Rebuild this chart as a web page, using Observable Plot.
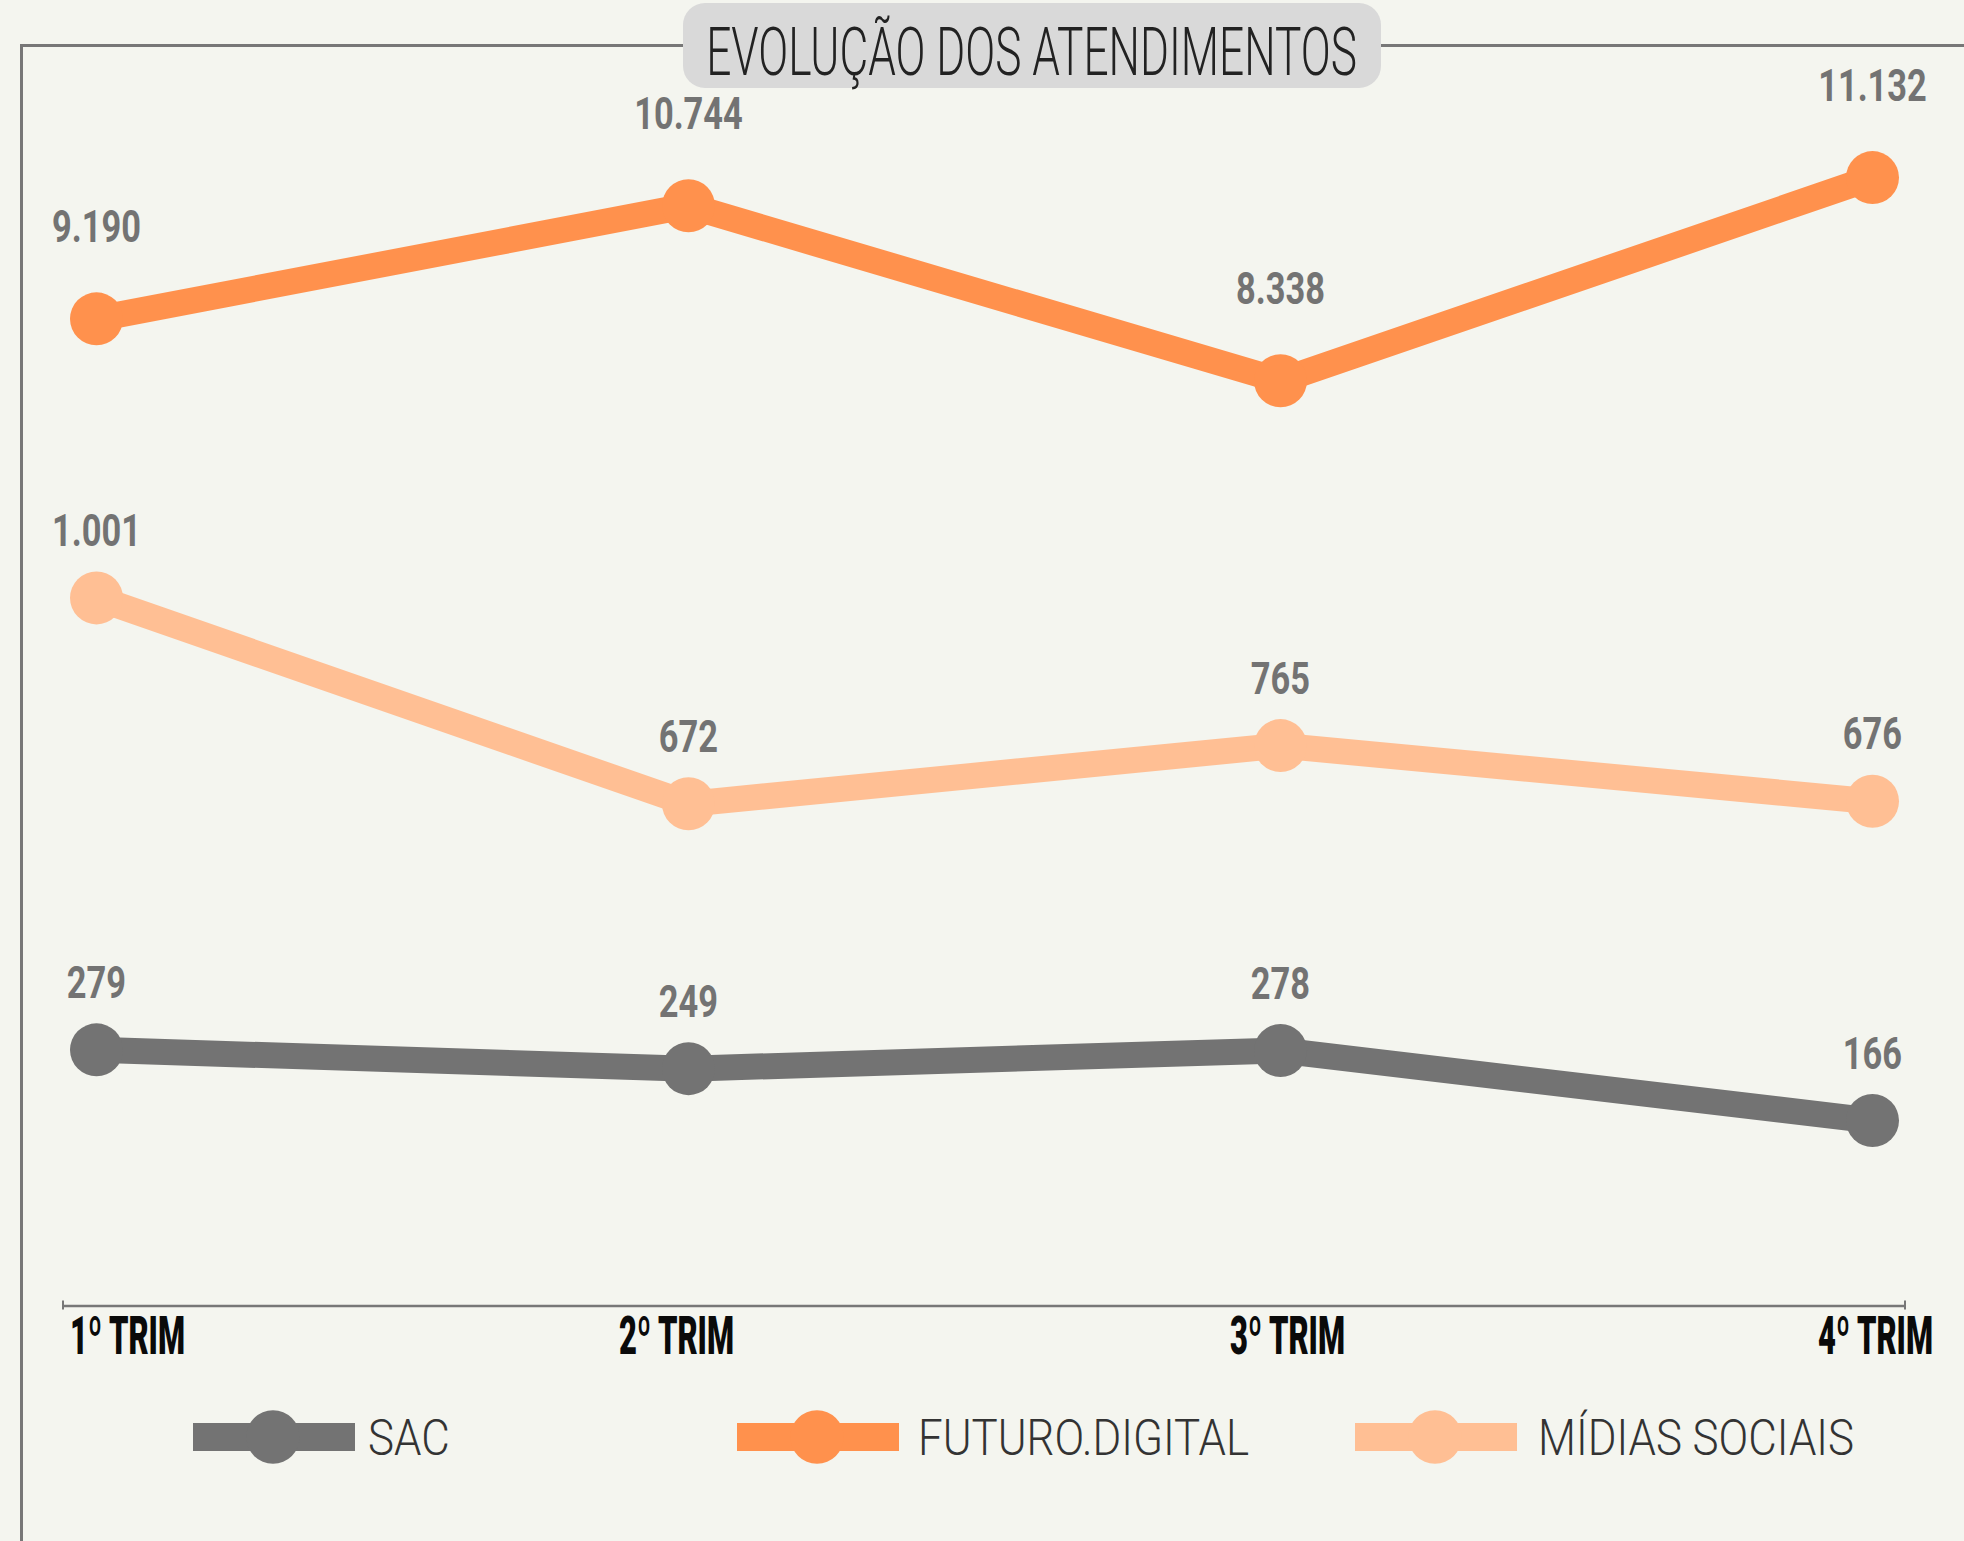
<!DOCTYPE html>
<html>
<head>
<meta charset="utf-8">
<script src="https://cdn.jsdelivr.net/npm/d3@7"></script>
<script src="https://cdn.jsdelivr.net/npm/@observablehq/plot@0.6"></script>
<style>
  html, body { margin: 0; padding: 0; background: #f4f5ef; }
  #wrap { position: relative; width: 1964px; height: 1541px; overflow: hidden; background: #f4f5ef; font-family: Roboto, "Noto Sans", sans-serif; }
  #chart { position: absolute; left: 0; top: 0; }
  #deco { position: absolute; left: 0; top: 0; }
</style>
</head>
<body>
<div id="wrap">
  <div id="chart"></div>
  <svg id="deco" width="1964" height="1541"></svg>
</div>
<script>
// ---------- data ----------
const titleText = "EVOLUÇÃO DOS ATENDIMENTOS";
const quarters = ["1º TRIM", "2º TRIM", "3º TRIM", "4º TRIM"];
const seriesNames = ["SAC", "FUTURO.DIGITAL", "MÍDIAS SOCIAIS"];
const sac = [279, 249, 278, 166];
const futuro = [9190, 10744, 8338, 11132];
const midias = [1001, 672, 765, 676];
const seriesColors = ["#737373", "#ff914d", "#ffbf94"];

// FUTURO.DIGITAL sits on a secondary (right, hidden) axis
const secondaryAxis = d3.scaleLinear().domain([0, 11000]).range([379, 1657]);

const ptBR = d3.formatLocale({decimal: ",", thousands: ".", grouping: [3], currency: ["R$", ""]});
const fmt = ptBR.format(",d");

const valuesBySeries = [sac, futuro, midias];
const rows = [];
seriesNames.forEach((name, i) => {
  valuesBySeries[i].forEach((v, j) => {
    rows.push({
      series: name,
      quarter: quarters[j],
      value: v,
      y: name === "FUTURO.DIGITAL" ? secondaryAxis(v) : v,
      label: fmt(v)
    });
  });
});
const rowsPrimary = rows.filter(d => d.series !== "FUTURO.DIGITAL");
const rowsSecondary = rows.filter(d => d.series === "FUTURO.DIGITAL");

// ---------- layout ----------
const W = 1964, H = 1380;
const yDomain = [-130, 1700];
const labelShift = [31, -12, 7, 3];

const endTicks = (index, scales, values, dims) => {
  const g = d3.create("svg:g").attr("stroke", "#777").attr("stroke-width", 2);
  const y = dims.height - dims.marginBottom;
  for (const x of [dims.marginLeft, dims.width - dims.marginRight]) {
    g.append("line").attr("x1", x).attr("x2", x).attr("y1", y - 5).attr("y2", y + 4);
  }
  return g.node();
};

const plot = Plot.plot({
  width: W,
  height: H,
  marginLeft: 63,
  marginRight: 59,
  marginTop: 159.8,
  marginBottom: H - 1305.4,
  x: {type: "point", domain: quarters, padding: 0.054, axis: null},
  y: {domain: yDomain, axis: null},
  color: {domain: seriesNames, range: seriesColors},
  style: {background: "transparent", overflow: "visible", fontFamily: "Roboto, sans-serif"},
  marks: [
    Plot.ruleY([yDomain[0]], {stroke: "#777", strokeWidth: 2.5}),
    endTicks,
    Plot.line(rows, {x: "quarter", y: "y", z: "series", stroke: "series", strokeWidth: 26, strokeLinejoin: "round"}),
    Plot.dot(rows, {x: "quarter", y: "y", fill: "series", r: 26.5}),
    Plot.text(rowsPrimary, {x: "quarter", y: "y", text: "label", dy: -66, lineAnchor: "middle",
      fill: "#737373", fontSize: 44, fontWeight: 700}),
    Plot.text(rowsSecondary, {x: "quarter", y: "y", text: "label", dy: -91, lineAnchor: "middle",
      fill: "#737373", fontSize: 44, fontWeight: 700}),
    ...quarters.map((q, i) => Plot.text([q], {x: d => d, text: d => d, frameAnchor: "bottom",
      lineAnchor: "top", dy: 10, dx: labelShift[i], fill: "#0a0a0a", fontSize: 53, fontWeight: 900}))
  ]
});
document.getElementById("chart").appendChild(plot);

// condense text horizontally (reference uses a condensed face)
function condense(el, k) {
  const t = el.getAttribute("transform");
  if (t) el.setAttribute("transform", t + ` scale(${k},1)`);
  else {
    el.setAttribute("textLength", el.getComputedTextLength() * k);
    el.setAttribute("lengthAdjust", "spacingAndGlyphs");
  }
}
const allTexts = Array.from(plot.querySelectorAll("text"));
const axisTexts = allTexts.filter(t => quarters.includes(t.textContent));
const dataTexts = allTexts.filter(t => !quarters.includes(t.textContent));
const refData = dataTexts.find(t => t.textContent === "9.190");
const kData = refData ? 89 / refData.getComputedTextLength() : 0.8;
const refAxis = axisTexts.find(t => t.textContent === quarters[0]);
const kAxis = refAxis ? 115 / refAxis.getComputedTextLength() : 0.62;
dataTexts.forEach(t => condense(t, kData));
axisTexts.forEach(t => condense(t, kAxis));

// ---------- decoration: frame, title box, legend ----------
const deco = d3.select("#deco");
deco.append("path")
  .attr("d", "M21.5,1545 V45.5 H1970")
  .attr("fill", "none").attr("stroke", "#777").attr("stroke-width", 3);
deco.append("rect")
  .attr("x", 683).attr("y", 3).attr("width", 698).attr("height", 85).attr("rx", 22)
  .attr("fill", "#d9d9d9");
const title = deco.append("text")
  .attr("text-anchor", "middle")
  .attr("font-family", "Roboto, sans-serif").attr("font-weight", 300)
  .attr("font-size", 66).attr("fill", "#222")
  .text(titleText);
const tw = title.node().getComputedTextLength();
title.attr("transform", `translate(1031.5,75) scale(${651 / tw},1)`);

// legend
const legendSwatchX = [193, 737, 1355];
const legendTextX = [368, 918, 1538];
const legendY = 1437;
const lg = deco.append("g");
const legTexts = [];
seriesNames.forEach((name, i) => {
  lg.append("rect").attr("x", legendSwatchX[i]).attr("y", legendY - 14).attr("width", 162).attr("height", 28)
    .attr("fill", seriesColors[i]);
  lg.append("circle").attr("cx", legendSwatchX[i] + 80).attr("cy", legendY).attr("r", 26.7)
    .attr("fill", seriesColors[i]);
  const t = lg.append("text").attr("font-family", "Roboto, sans-serif").attr("font-weight", 300)
    .attr("font-size", 50).attr("fill", "#333").text(name);
  legTexts.push([t, legendTextX[i]]);
});
const legMeasured = d3.sum(legTexts, ([t]) => t.node().getComputedTextLength());
const kLeg = (78 + 341 + 310) / legMeasured;
legTexts.forEach(([t, x]) => t.attr("transform", `translate(${x},${legendY + 17.5}) scale(${kLeg},1)`));
</script>
</body>
</html>
